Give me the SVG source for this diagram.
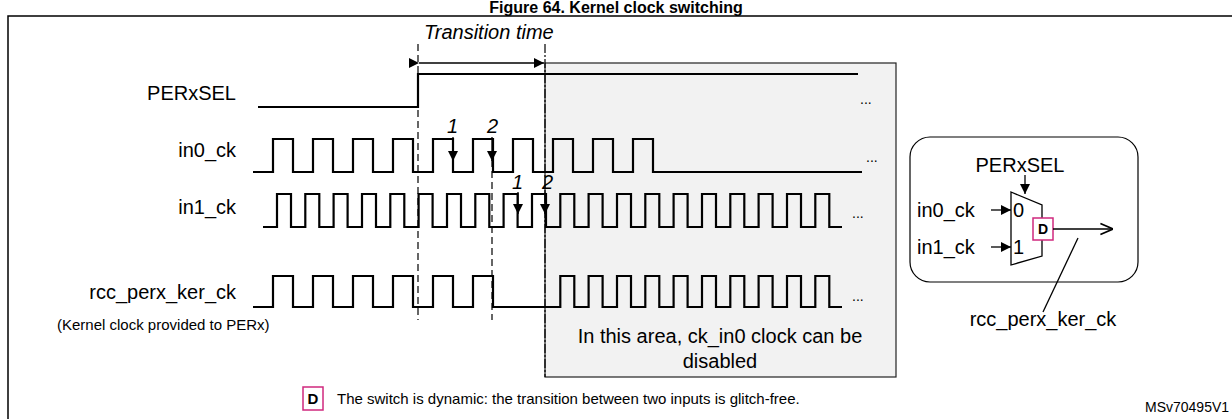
<svg xmlns="http://www.w3.org/2000/svg" width="1232" height="419" viewBox="0 0 1232 419">
<style>
text{font-family:"Liberation Sans",Arial,sans-serif;fill:#000}
.lbl{font-size:20px}
.w{fill:none;stroke:#000;stroke-width:2.2}
.t{fill:none;stroke:#000;stroke-width:1.3}
.it{font-style:italic;font-size:20px}
</style>
<defs>
<marker id="ah" viewBox="0 0 10 10" refX="10" refY="5" markerWidth="12" markerHeight="10" markerUnits="userSpaceOnUse" orient="auto"><path d="M0,0L10,5L0,10z" fill="#000"/></marker>
<marker id="ao" viewBox="0 0 10 10" refX="10" refY="5" markerWidth="14" markerHeight="14" markerUnits="userSpaceOnUse" orient="auto"><path d="M1,1L10,5L1,9" fill="none" stroke="#000" stroke-width="1.2"/></marker>
</defs>
<rect width="1232" height="419" fill="#fff"/>
<text x="616" y="13" text-anchor="middle" font-size="16" font-weight="bold">Figure 64. Kernel clock switching</text>
<path d="M8,419V16H1232" fill="none" stroke="#000" stroke-width="1.5"/>
<g id="area">
<rect x="545" y="63" width="351" height="314" fill="#f2f2f2" stroke="#222" stroke-width="1.2"/>
<text x="720" y="343" text-anchor="middle" font-size="20">In this area, ck_in0 clock can be</text>
<text x="720" y="368" text-anchor="middle" font-size="20">disabled</text>
</g>
<g id="labels">
<text class="lbl" x="236" y="100" text-anchor="end">PERxSEL</text>
<text class="lbl" x="236" y="157" text-anchor="end">in0_ck</text>
<text class="lbl" x="236" y="214" text-anchor="end">in1_ck</text>
<text class="lbl" x="236" y="299" text-anchor="end">rcc_perx_ker_ck</text>
<text x="57" y="330" font-size="15">(Kernel clock provided to PERx)</text>
<text x="860" y="104" font-size="14">...</text>
<text x="866" y="162" font-size="14">...</text>
<text x="852" y="218" font-size="14">...</text>
<text x="852" y="301" font-size="14">...</text>
<text class="it" x="424" y="39">Transition time</text>
</g>
<g id="waves">
<path class="w" d="M258,107H418V74H858"/>
<path class="w" d="M253,172H273V139H293V172H313V139H333V172H353V139H373V172H393V139H413V172H433V139H453V172H473V139H493V172H513V139H533V172H553V139H573V172H593V139H613V172H633V139H653V172H862"/>
<path class="w" d="M263,227H277V194H291V227H305.3V194H319.3V227H333.6V194H347.6V227H362V194H376V227H390.3V194H404.3V227H418.6V194H432.6V227H447V194H461V227H475.3V194H489.3V227H503.6V194H517.6V227H532V194H546V227H560.3V194H574.3V227H588.6V194H602.6V227H617V194H631V227H645.3V194H659.3V227H673.6V194H687.6V227H702V194H716V227H730.3V194H744.3V227H758.6V194H772.6V227H787V194H801V227H815.3V194H829.3V227H842"/>
<path class="w" d="M253,307H273V276H293V307H313V276H333V307H353V276H373V307H393V276H413V307H433V276H453V307H473V276H493V307H560.3V276H574.3V307H588.6V276H602.6V307H617V276H631V307H645.3V276H659.3V307H673.6V276H687.6V307H702V276H716V307H730.3V276H744.3V307H758.6V276H772.6V307H787V276H801V307H815.3V276H829.3V307H842"/>
</g>
<g id="connectors">
<path d="M418,44V320" stroke="#000" stroke-width="1.2" stroke-dasharray="7,4"/>
<path d="M492,160V320" stroke="#000" stroke-width="1.2" stroke-dasharray="7,4"/>
<path d="M545,44V377" stroke="#000" stroke-width="1.2" stroke-dasharray="9,2,2,2"/>
<path class="t" d="M419,63H544" marker-start="url(#ah)" marker-end="url(#ah)"/>
<path class="t" d="M453,137V161" marker-end="url(#ah)"/>
<path class="t" d="M492,137V161" marker-end="url(#ah)"/>
<path class="t" d="M518,192V214" marker-end="url(#ah)"/>
<path class="t" d="M545,192V214" marker-end="url(#ah)"/>
<text class="it" x="447" y="133">1</text>
<text class="it" x="487" y="133">2</text>
<text class="it" x="512" y="189">1</text>
<text class="it" x="542" y="189">2</text>
</g>
<g id="mux">
<rect x="910" y="137" width="228" height="145" rx="20" fill="none" stroke="#000" stroke-width="1.2"/>
<text class="lbl" x="1020" y="172" text-anchor="middle">PERxSEL</text>
<path class="t" d="M1025,175V194" marker-end="url(#ah)"/>
<path d="M1011,192L1042,205V256L1011,265Z" fill="#fff" stroke="#000" stroke-width="1.3"/>
<text class="lbl" x="917" y="217">in0_ck</text>
<text class="lbl" x="917" y="254">in1_ck</text>
<path class="t" d="M991,210H1011" marker-end="url(#ah)"/>
<path class="t" d="M991,247H1011" marker-end="url(#ah)"/>
<text class="lbl" x="1013" y="217">0</text>
<text class="lbl" x="1013" y="254">1</text>
<rect x="1033" y="218" width="20" height="22" fill="#fff" stroke="#d0287e" stroke-width="1.5"/>
<text x="1043" y="234" text-anchor="middle" font-size="14" font-weight="bold">D</text>
<path class="t" d="M1053,229H1113" marker-end="url(#ao)"/>
<path class="t" d="M1078,238L1043,312"/>
<text class="lbl" x="1043" y="326" text-anchor="middle">rcc_perx_ker_ck</text>
</g>
<g id="footer">
<rect x="303" y="387" width="20" height="23" fill="#fff" stroke="#d0287e" stroke-width="1.5"/>
<text x="313" y="404" text-anchor="middle" font-size="15" font-weight="bold">D</text>
<text x="337" y="404" font-size="15">The switch is dynamic: the transition between two inputs is glitch-free.</text>
<text x="1145" y="412" font-size="14">MSv70495V1</text>
</g>
</svg>
